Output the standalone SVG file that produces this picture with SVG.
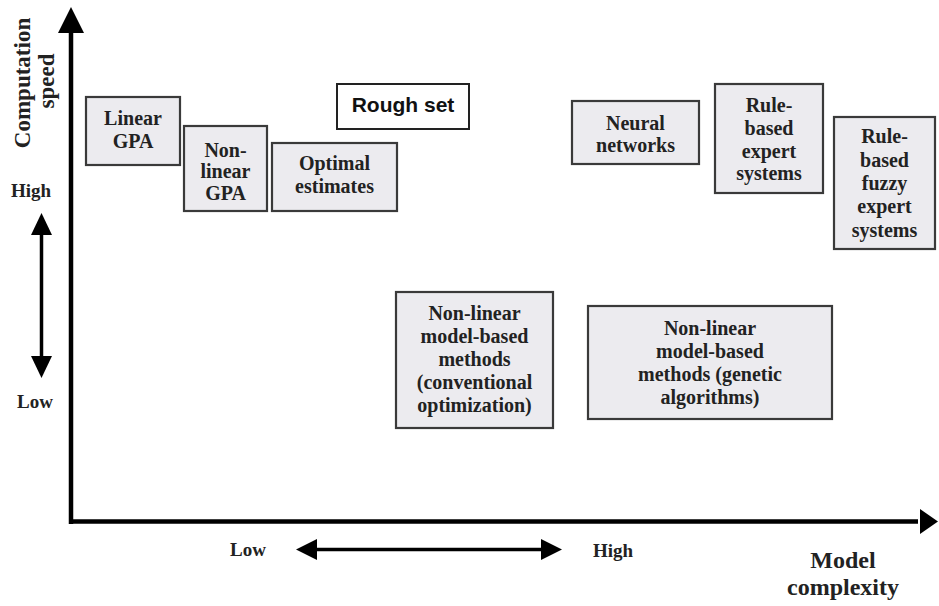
<svg xmlns="http://www.w3.org/2000/svg" width="939" height="606" viewBox="0 0 939 606">
<style>
.box{fill:#ECEBEF;stroke:#3a3a3a;stroke-width:2.2}
.wbox{fill:#ffffff;stroke:#222;stroke-width:2}
.t{font-family:"Liberation Serif","Times New Roman",serif;font-weight:bold;font-size:20px;fill:#222;text-anchor:middle}
.ax{font-family:"Liberation Serif","Times New Roman",serif;font-weight:bold;fill:#222}
.sans{font-family:"Liberation Sans",Arial,sans-serif;font-weight:bold;font-size:21px;fill:#111;text-anchor:middle}
.line{stroke:#000;fill:none}
.head{fill:#000}
</style>
<g id="connectors">
  <line class="line" x1="71" y1="524" x2="71" y2="28" stroke-width="4.5"/>
  <polygon class="head" points="71,7 58,33 84,33"/>
  <line class="line" x1="69" y1="521.5" x2="918" y2="521.5" stroke-width="4.5"/>
  <polygon class="head" points="938,521.5 920,509 920,534"/>
  <line class="line" x1="41.5" y1="232" x2="41.5" y2="360" stroke-width="3.5"/>
  <polygon class="head" points="41.5,213 31,235 52,235"/>
  <polygon class="head" points="41.5,378 31,356 52,356"/>
  <line class="line" x1="314" y1="549.5" x2="544" y2="549.5" stroke-width="3.5"/>
  <polygon class="head" points="296,549.5 317,539 317,560"/>
  <polygon class="head" points="562,549.5 541,539 541,560"/>
</g>
<g id="labels">
  <text class="ax" font-size="23" transform="translate(30,83) rotate(-90)" text-anchor="middle">Computation</text>
  <text class="ax" font-size="23" transform="translate(54,81) rotate(-90)" text-anchor="middle">speed</text>
  <text class="ax" font-size="19" x="31" y="197" text-anchor="middle">High</text>
  <text class="ax" font-size="19" x="35" y="408" text-anchor="middle">Low</text>
  <text class="ax" font-size="19" x="248" y="556" text-anchor="middle">Low</text>
  <text class="ax" font-size="19" x="613" y="557" text-anchor="middle">High</text>
  <text class="ax" font-size="24" x="843" y="568" text-anchor="middle">Model</text>
  <text class="ax" font-size="24" x="843" y="595" text-anchor="middle">complexity</text>
</g>
<g id="linear-gpa">
  <rect class="box" x="86" y="97" width="94" height="68"/>
  <text class="t" x="133" y="125">Linear</text>
  <text class="t" x="133" y="148">GPA</text>
</g>
<g id="nonlinear-gpa">
  <rect class="box" x="184" y="126" width="83" height="85"/>
  <text class="t" x="225.5" y="157">Non-</text>
  <text class="t" x="225.5" y="178">linear</text>
  <text class="t" x="225.5" y="200">GPA</text>
</g>
<g id="optimal-estimates">
  <rect class="box" x="272" y="143" width="125" height="68"/>
  <text class="t" x="334.5" y="170">Optimal</text>
  <text class="t" x="334.5" y="193">estimates</text>
</g>
<g id="rough-set">
  <rect class="wbox" x="337" y="84" width="132" height="45"/>
  <text class="sans" x="403" y="112">Rough set</text>
</g>
<g id="neural-networks">
  <rect class="box" x="572" y="101" width="127" height="63"/>
  <text class="t" x="635.5" y="130">Neural</text>
  <text class="t" x="635.5" y="152">networks</text>
</g>
<g id="rule-based-expert">
  <rect class="box" x="715" y="84" width="108" height="109"/>
  <text class="t" x="769" y="112">Rule-</text>
  <text class="t" x="769" y="135">based</text>
  <text class="t" x="769" y="158">expert</text>
  <text class="t" x="769" y="180">systems</text>
</g>
<g id="rule-based-fuzzy">
  <rect class="box" x="834" y="117" width="101" height="132"/>
  <text class="t" x="884.5" y="143">Rule-</text>
  <text class="t" x="884.5" y="167">based</text>
  <text class="t" x="884.5" y="190">fuzzy</text>
  <text class="t" x="884.5" y="213">expert</text>
  <text class="t" x="884.5" y="237">systems</text>
</g>
<g id="nonlinear-conventional">
  <rect class="box" x="396" y="292" width="157" height="136"/>
  <text class="t" x="474.5" y="320">Non-linear</text>
  <text class="t" x="474.5" y="343">model-based</text>
  <text class="t" x="474.5" y="366">methods</text>
  <text class="t" x="474.5" y="389">(conventional</text>
  <text class="t" x="474.5" y="412">optimization)</text>
</g>
<g id="nonlinear-genetic">
  <rect class="box" x="588" y="306" width="244" height="113"/>
  <text class="t" x="710" y="335">Non-linear</text>
  <text class="t" x="710" y="358">model-based</text>
  <text class="t" x="710" y="381">methods (genetic</text>
  <text class="t" x="710" y="404">algorithms)</text>
</g>
</svg>
